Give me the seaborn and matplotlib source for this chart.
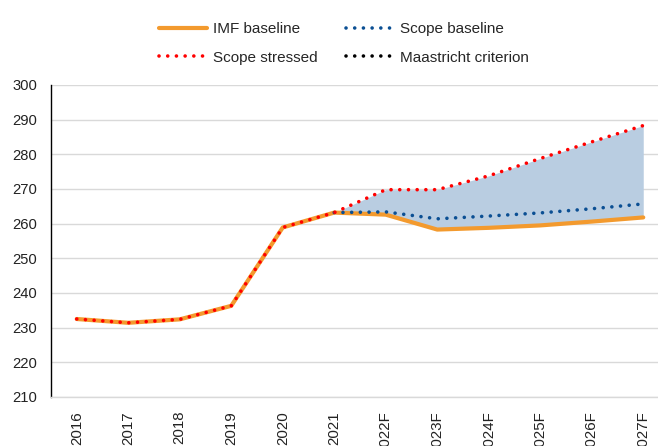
import matplotlib
matplotlib.use("Agg")
import matplotlib.pyplot as plt
import seaborn as sns
import pandas as pd
import numpy as np
from matplotlib.lines import Line2D

years = ["2016", "2017", "2018", "2019", "2020", "2021",
         "2022F", "2023F", "2024F", "2025F", "2026F", "2027F"]
imf_baseline = [232.5, 231.4, 232.4, 236.3, 258.9, 263.2,
                262.6, 258.3, 258.8, 259.5, 260.6, 261.8]
scope_baseline = [None, None, None, None, None, 263.2,
                  263.4, 261.4, 262.2, 263.1, 264.3, 265.7]
scope_stressed = [232.5, 231.4, 232.4, 236.3, 258.9, 263.2,
                  269.8, 269.8, 273.8, 278.8, 283.6, 288.3]
maastricht = [60.0] * 12
y_ticks = list(range(210, 301, 10))

ORANGE = "#F39A2E"
BLUE = "#0B4F93"
RED = "#FF0000"
FILL = "#B9CDE1"

df = pd.DataFrame({
    "year": years,
    "imf": imf_baseline,
    "scope_base": scope_baseline,
    "stressed": scope_stressed,
    "maastricht": maastricht,
})

sns.set_theme(style="white")
plt.rcParams["font.family"] = ["Liberation Sans", "DejaVu Sans"]

fig = plt.figure(figsize=(6.58, 4.46), dpi=100)
ax = fig.add_axes([51 / 658, 1 - 397 / 446, (669 - 51) / 658, (397 - 85) / 446])

pos = np.arange(len(years))
# shaded band between the stressed path and the IMF baseline, from 2021 onward
band = df.index >= 5
ax.fill_between(pos[band], df["imf"][band], df["stressed"][band],
                color=FILL, linewidth=0, zorder=1)

dot = dict(linestyle=(0, (0.01, 2.4)), dash_capstyle="round")

sns.lineplot(data=df, x="year", y="imf", ax=ax, color=ORANGE, linewidth=3.0,
             sort=False, zorder=2)
sns.lineplot(data=df, x="year", y="scope_base", ax=ax, color=BLUE,
             linewidth=2.6, sort=False, zorder=3, **dot)
sns.lineplot(data=df, x="year", y="stressed", ax=ax, color=RED,
             linewidth=2.6, sort=False, zorder=4, **dot)
sns.lineplot(data=df, x="year", y="maastricht", ax=ax, color="black",
             linewidth=2.6, sort=False, zorder=4, **dot)

ax.set_xlim(-0.5, len(years) - 0.5)
ax.set_ylim(210, 300)
ax.set_yticks(y_ticks)
ax.set_yticklabels([str(t) for t in y_ticks], fontsize=10.6, color="#222222")
ax.set_xticks(pos)
ax.set_xticklabels(years, rotation=90, fontsize=10.8, color="#222222",
                   va="top", ha="center")
ax.set_xlabel("")
ax.set_ylabel("")
ax.tick_params(axis="y", length=0, pad=10)
ax.tick_params(axis="x", length=0, pad=10)

ax.grid(axis="y", color="#D9D9D9", linewidth=1.0)
ax.set_axisbelow(True)
for side in ["top", "right"]:
    ax.spines[side].set_visible(False)
ax.spines["left"].set_color("black")
ax.spines["left"].set_linewidth(1.0)
ax.spines["bottom"].set_color("#D9D9D9")
ax.spines["bottom"].set_linewidth(1.0)

handles = [
    Line2D([], [], color=ORANGE, linewidth=3.0),
    Line2D([], [], color=RED, linewidth=2.6, **dot),
    Line2D([], [], color=BLUE, linewidth=2.6, **dot),
    Line2D([], [], color="black", linewidth=2.6, **dot),
]
labels = ["IMF baseline", "Scope stressed", "Scope baseline", "Maastricht criterion"]
fig.legend(handles, labels, ncol=2, frameon=False, fontsize=11,
           loc="upper center", bbox_to_anchor=(344 / 658, 0.951),
           borderaxespad=0, borderpad=0,
           handlelength=3.1, columnspacing=1.9, labelspacing=0.97,
           handletextpad=0.4)

fig.savefig("out.png", dpi=100, facecolor="white")
